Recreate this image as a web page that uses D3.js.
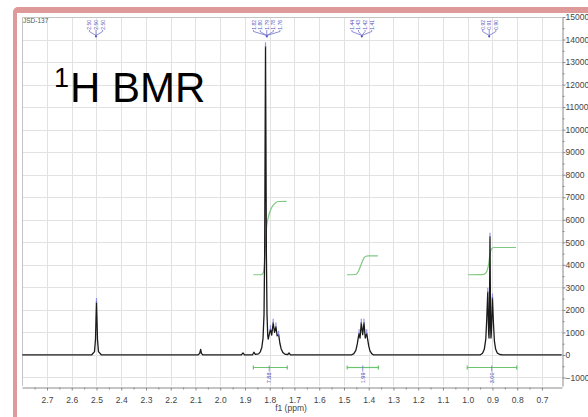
<!DOCTYPE html>
<meta charset="utf-8">
<style>
  body { margin: 0; background: #fff; }
  svg text { font-family: "Liberation Sans", Arial, sans-serif; }
  .grid line { stroke: #e2e2e2; stroke-width: 1; }
  .axis path, .axis line { stroke: #8a8a8a; }
  .axis text { fill: #444; font-size: 8.5px; }
  .spectrum { fill: none; stroke: #1b1b1b; stroke-width: 1.3px; stroke-linejoin: round; }
  .integral { fill: none; stroke: #80c882; stroke-width: 1.2px; }
</style>
<svg width="588" height="417"></svg>
<script src="https://d3js.org/d3.v7.min.js"></script>
<script>

  // tick labels
  var ppmTicks = [2.7, 2.6, 2.5, 2.4, 2.3, 2.2, 2.1, 2.0, 1.9, 1.8, 1.7, 1.6, 1.5, 1.4, 1.3, 1.2, 1.1, 1.0, 0.9, 0.8, 0.7];
  var intensityTicks = [-1000, 0, 1000, 2000, 3000, 4000, 5000, 6000, 7000, 8000, 9000, 10000, 11000, 12000, 13000, 14000, 15000];

  // spectrum trace: [ppm, intensity]
  var spectrum = [
    [2.80, 0], [2.52, 0], [2.508, 150], [2.504, 700], [2.502, 1600], [2.500, 2350], [2.498, 1600],
    [2.496, 700], [2.492, 150], [2.48, 0], [2.09, 0], [2.083, 70], [2.079, 250], [2.076, 70],
    [2.07, 0], [1.915, 0], [1.908, 90], [1.902, 0], [1.87, 0], [1.864, 120], [1.858, 30],
    [1.845, 50], [1.838, 140], [1.832, 330], [1.827, 750], [1.823, 1800], [1.8205, 4500],
    [1.8185, 10000], [1.817, 13700], [1.8155, 10000], [1.8135, 4500], [1.811, 1800], [1.808, 850],
    [1.806, 700], [1.802, 900], [1.797, 1150], [1.792, 880], [1.786, 1430], [1.7805, 1000],
    [1.775, 1260], [1.770, 850], [1.764, 900], [1.759, 520], [1.754, 280], [1.747, 110],
    [1.738, 30], [1.727, 20], [1.722, 90], [1.717, 10], [1.70, 0],
    [1.47, 0], [1.46, 60], [1.452, 200], [1.446, 500], [1.4425, 750], [1.439, 960], [1.435, 750],
    [1.430, 1430], [1.4245, 900], [1.419, 1430], [1.414, 750], [1.408, 960], [1.4045, 700],
    [1.40, 400], [1.395, 180], [1.388, 60], [1.38, 0],
    [0.95, 0], [0.94, 80], [0.933, 250], [0.927, 700], [0.923, 1600], [0.919, 2800], [0.9155, 1000],
    [0.914, 750], [0.9125, 1300], [0.910, 5250], [0.9075, 1300], [0.906, 750], [0.9045, 1000],
    [0.900, 2550], [0.896, 1400], [0.892, 600], [0.887, 250], [0.88, 80], [0.87, 20], [0.86, 0],
    [0.62, 0]
  ];

  // picked peaks (ppm, intensity at top)
  var pickedPeaks = [
    [2.500, 2350], [1.817, 13700], [1.797, 1150], [1.786, 1430], [1.775, 1260], [1.764, 900],
    [1.439, 960], [1.430, 1430], [1.419, 1430], [1.408, 960],
    [0.919, 2800], [0.910, 5250], [0.900, 2550]
  ];

  // integral curves [ppm, drawn level]
  var integral182 = [[1.866, 3560], [1.835, 3560], [1.826, 3650], [1.822, 3950], [1.819, 4500], [1.816, 5200],
    [1.812, 5750], [1.806, 6100], [1.798, 6400], [1.788, 6620], [1.776, 6760], [1.762, 6810], [1.732, 6820]];
  var integral143 = [[1.488, 3560], [1.455, 3570], [1.447, 3620], [1.440, 3750], [1.433, 3950], [1.426, 4150],
    [1.419, 4310], [1.412, 4380], [1.402, 4400], [1.363, 4400]];
  var integral091 = [[0.999, 3560], [0.935, 3580], [0.926, 3650], [0.920, 3800], [0.915, 4050], [0.911, 4400],
    [0.907, 4620], [0.902, 4720], [0.895, 4770], [0.805, 4770]];

  // integration ranges and values
  var integralFrom = [1.866, 1.487, 1.002];
  var integralTo = [1.729, 1.361, 0.802];
  var integralMid = [1.802, 1.424, 0.903];
  var integralValues = ["7.88", "1.99", "3.00"];

  // multiplet label groups
  var groupCenters = [2.502, 1.812, 1.428, 0.913];
  var groupLabels = [
    ["2.50", "2.50", "2.50"],
    ["1.82", "1.80", "1.79", "1.78", "1.76"],
    ["1.44", "1.43", "1.42", "1.41"],
    ["0.92", "0.91", "0.90"]
  ];

  var svg = d3.select("svg");
  var pLeft = 22, pRight = 562, pTop = 17, pBottom = 386;

  // pink frame
  svg.append("rect").attr("x", 13).attr("y", 7).attr("width", 620).attr("height", 440)
    .attr("rx", 5).attr("fill", "#dd9a98");
  svg.append("rect").attr("x", 17).attr("y", 13).attr("width", 620).attr("height", 440)
    .attr("fill", "#fff");

  var x = d3.scaleLinear().domain([2.801, 0.619]).range([pLeft, pRight]);
  var y = d3.scaleLinear().domain([-1378, 15000]).range([pBottom, pTop]);

  // grid
  var grid = svg.append("g").attr("class", "grid");
  grid.selectAll(".v").data(ppmTicks).enter().append("line")
    .attr("x1", function (d) { return Math.round(x(d)) + 0.5; })
    .attr("x2", function (d) { return Math.round(x(d)) + 0.5; })
    .attr("y1", pTop).attr("y2", pBottom);
  grid.selectAll(".h").data(intensityTicks).enter().append("line")
    .attr("x1", pLeft).attr("x2", pRight)
    .attr("y1", function (d) { return Math.round(y(d)) + 0.5; })
    .attr("y2", function (d) { return Math.round(y(d)) + 0.5; });

  // plot frame (left / top)
  svg.append("path").attr("d", "M" + (pLeft + 0.5) + "," + pBottom + "V" + (pTop + 0.5) + "H" + pRight)
    .attr("fill", "none").attr("stroke", "#c4c4c4");

  // x axis
  svg.append("g")
    .attr("class", "axis")
    .attr("transform", "translate(0," + (pBottom + 1.5) + ")")
    .call(d3.axisBottom(x).tickValues(ppmTicks).tickSize(3).tickSizeOuter(0).tickPadding(6.5)
      .tickFormat(d3.format(".1f")));
  svg.append("g")
    .attr("class", "axis")
    .attr("transform", "translate(0," + (pBottom + 1.5) + ")")
    .call(d3.axisBottom(x).tickValues(ppmTicks.map(function (d) { return d + 0.05; }))
      .tickSize(2).tickSizeOuter(0).tickFormat(""))
    .select(".domain").remove();

  svg.append("text").attr("x", 291).attr("y", 411).attr("text-anchor", "middle")
    .style("font-size", "8.5px").attr("fill", "#444").text("f1 (ppm)");

  // y axis on the right
  svg.append("g")
    .attr("class", "axis")
    .attr("transform", "translate(" + (pRight + 0.5) + ",0)")
    .call(d3.axisRight(y).tickValues(intensityTicks).tickSize(3).tickSizeOuter(0).tickPadding(0)
      .tickFormat(d3.format("d")));
  svg.append("g")
    .attr("class", "axis")
    .attr("transform", "translate(" + (pRight + 0.5) + ",0)")
    .call(d3.axisRight(y).tickValues(intensityTicks.map(function (d) { return d + 500; }).filter(function (d) { return d < 15000; }))
      .tickSize(2).tickSizeOuter(0).tickFormat(""))
    .select(".domain").remove();

  // integral curves
  var line = d3.line()
    .x(function (d) { return x(d[0]); })
    .y(function (d) { return y(d[1]); });
  var iline = d3.line()
    .curve(d3.curveMonotoneX)
    .x(function (d) { return x(d[0]); })
    .y(function (d) { return y(d[1]); });

  [integral182, integral143, integral091].forEach(function (c) {
    svg.append("path").attr("class", "integral").attr("d", iline(c));
  });

  // spectrum
  svg.append("path").attr("class", "spectrum").attr("d", line(spectrum));

  // peak markers
  svg.selectAll(".pk").data(pickedPeaks).enter().append("line")
    .attr("x1", function (d) { return x(d[0]); })
    .attr("x2", function (d) { return x(d[0]); })
    .attr("y1", function (d) { return y(d[1]) - 4; })
    .attr("y2", function (d) { return y(d[1]) + 1; })
    .attr("stroke", "#7a7ae0").attr("stroke-width", 1.2).attr("opacity", 0.8);

  // integral bars
  var barY = 367.5;
  integralValues.forEach(function (v, i) {
    var g = svg.append("g");
    g.append("line").attr("x1", x(integralFrom[i])).attr("x2", x(integralTo[i]))
      .attr("y1", barY).attr("y2", barY).attr("stroke", "#6cc46e").attr("stroke-width", 1.2);
    [integralFrom[i], integralTo[i]].forEach(function (p) {
      g.append("line").attr("x1", x(p)).attr("x2", x(p)).attr("y1", barY - 2).attr("y2", barY + 2)
        .attr("stroke", "#6cc46e").attr("stroke-width", 1.2);
    });
    var cx = x(integralMid[i]);
    g.append("line").attr("x1", cx).attr("x2", cx).attr("y1", barY - 2).attr("y2", barY + 4)
      .attr("stroke", "#6f6fcf").attr("stroke-width", 0.8);
    g.append("text").attr("transform", "translate(" + (cx + 2) + "," + (barY + 5) + ") rotate(-90)")
      .attr("text-anchor", "end").style("font-size", "5.5px").attr("fill", "#4848c0").text(v);
  });

  // multiplet label fans
  var spacing = 6.6;
  groupLabels.forEach(function (labels, gi) {
    var cx = x(groupCenters[gi]);
    var n = labels.length;
    labels.forEach(function (t, i) {
      var lx = cx + (i - (n - 1) / 2) * spacing;
      svg.append("text").attr("transform", "translate(" + (lx + 2) + ",20) rotate(-90)")
        .attr("text-anchor", "end").style("font-size", "5px").attr("fill", "#5454c0").text(t);
      svg.append("path")
        .attr("d", "M" + lx + ",30V31.5L" + cx + ",35.5V37")
        .attr("fill", "none").attr("stroke", "#7070d0").attr("stroke-width", 0.8);
    });
    svg.append("circle").attr("cx", cx).attr("cy", 36.5).attr("r", 1).attr("fill", "#5454c0");
  });

  // sample id and title
  svg.append("text").attr("x", 23).attr("y", 23).style("font-size", "6.5px").attr("fill", "#555").text("JSD-137");
  svg.append("text").attr("x", 54).attr("y", 87).style("font-size", "27px").attr("fill", "#000").text("1");
  svg.append("text").attr("x", 70).attr("y", 102).style("font-size", "42px").attr("fill", "#000").text("H BMR");

</script>
